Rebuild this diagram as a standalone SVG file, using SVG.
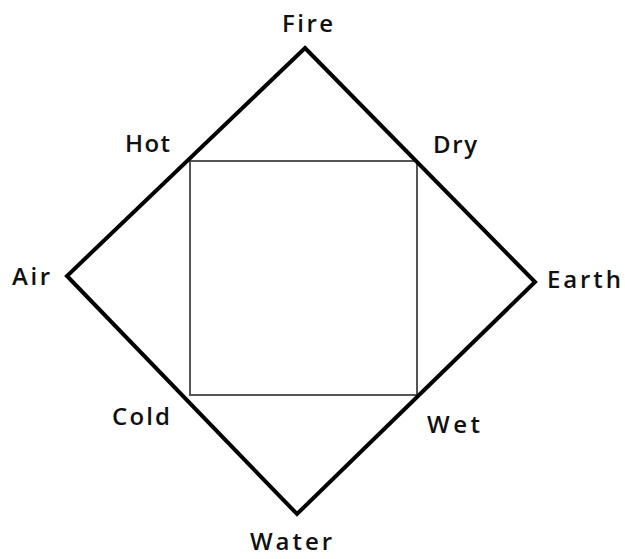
<svg xmlns="http://www.w3.org/2000/svg" width="625" height="559" viewBox="0 0 625 559">
<style>
.lbl{font-family:"Open Sans","Liberation Sans",sans-serif;font-size:24px;font-weight:600;fill:#111;}
.dia{fill:none;stroke:#000;stroke-width:4;stroke-linejoin:miter;}
.sq{fill:none;stroke:#555;stroke-width:2;}
</style>
<rect width="625" height="559" fill="#fff"/>
<g id="connectors">
<rect class="sq" x="190" y="161" width="227" height="234"/>
<path class="dia" d="M305,48 L535,282 L297,514 L67,276 Z"/>
</g>
<g id="fire"><text class="lbl" x="282" y="32" textLength="51" lengthAdjust="spacing">Fire</text></g>
<g id="air"><text class="lbl" x="12" y="285" textLength="38" lengthAdjust="spacing">Air</text></g>
<g id="earth"><text class="lbl" x="547" y="288" textLength="74" lengthAdjust="spacing">Earth</text></g>
<g id="water"><text class="lbl" x="250" y="550" textLength="82" lengthAdjust="spacing">Water</text></g>
<g id="hot"><text class="lbl" x="125" y="152" textLength="45" lengthAdjust="spacing">Hot</text></g>
<g id="dry"><text class="lbl" x="433" y="153" textLength="44" lengthAdjust="spacing">Dry</text></g>
<g id="cold"><text class="lbl" x="112" y="425" textLength="58" lengthAdjust="spacing">Cold</text></g>
<g id="wet"><text class="lbl" x="427" y="433" textLength="53" lengthAdjust="spacing">Wet</text></g>
</svg>
